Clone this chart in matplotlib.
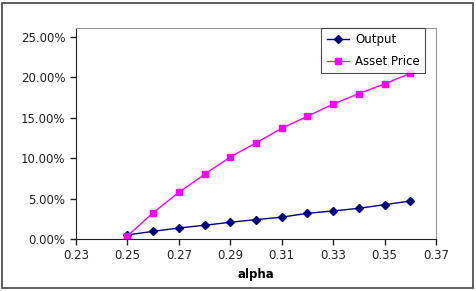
import matplotlib.pyplot as plt
from matplotlib.patches import Rectangle
from matplotlib.ticker import FuncFormatter

alpha = [0.25, 0.26, 0.27, 0.28, 0.29, 0.30, 0.31, 0.32, 0.33, 0.34, 0.35, 0.36]
output = [0.005, 0.0095, 0.0136, 0.017, 0.0207, 0.024, 0.027, 0.0318, 0.0347, 0.038, 0.0425, 0.047]
asset_price = [0.0037, 0.0325, 0.0578, 0.080, 0.1015, 0.119, 0.137, 0.152, 0.167, 0.180, 0.192, 0.205]
xticks = [0.23, 0.25, 0.27, 0.29, 0.31, 0.33, 0.35, 0.37]
yticks = [0.0, 0.05, 0.10, 0.15, 0.20, 0.25]

plt.rcParams['font.family'] = ['DejaVu Sans']
fig = plt.figure(figsize=(4.77, 2.91), dpi=100)
ax = fig.add_axes([76 / 477, 1 - 239 / 291, 360 / 477, 211 / 291])

# outer chart border
fig.patches.append(Rectangle((1.5 / 477, 3 / 291), 472 / 477, 285 / 291,
                             transform=fig.transFigure, fill=False,
                             edgecolor='#444444', linewidth=1.2))

ax.plot(alpha, output, color='#000080', marker='D', markersize=3.8, linewidth=1, label='Output')
ax.plot(alpha, asset_price, color='#FF00FF', marker='s', markersize=5, linewidth=1, label='Asset Price')

ax.set_xlim(0.23, 0.37)
ax.set_ylim(0, 0.2612)
ax.set_xticks(xticks)
ax.set_xticklabels([f'{t:.2f}' for t in xticks])
ax.set_yticks(yticks)
ax.yaxis.set_major_formatter(FuncFormatter(lambda v, p: f'{v * 100:.2f}%'))
ax.tick_params(labelsize=8.5, length=4, width=1, direction='out', colors='#222222')
ax.set_xlabel('alpha', fontsize=8.5, fontweight='bold', labelpad=4)

ax.spines['left'].set_color('#222222')
ax.spines['bottom'].set_color('#222222')
ax.spines['top'].set_color('#999999')
ax.spines['right'].set_color('#999999')

leg = ax.legend(loc='upper right', bbox_to_anchor=(349 / 360, 1.0), fontsize=8.5,
                frameon=True, fancybox=False, edgecolor='#222222', borderpad=0.45,
                handlelength=1.9, handletextpad=0.5, labelspacing=0.75, borderaxespad=0)
leg.get_frame().set_linewidth(0.8)

fig.savefig('out.png', dpi=100)
